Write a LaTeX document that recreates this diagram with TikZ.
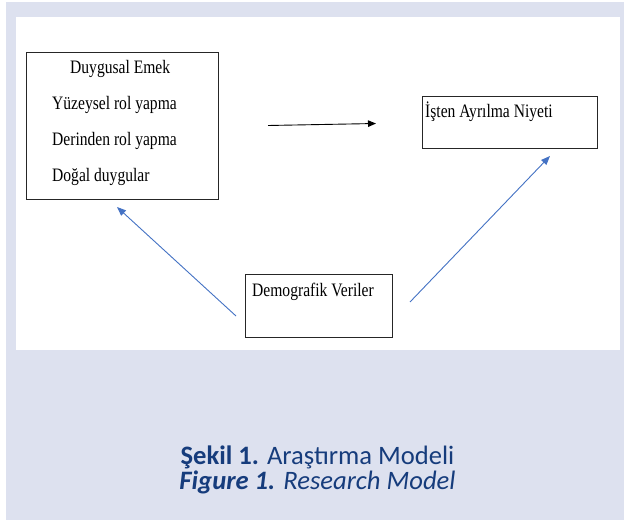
\documentclass[tikz,border=0pt]{standalone}
\usepackage{fontspec}
\setmainfont{Liberation Serif}[FakeStretch=0.82]
\newfontfamily\capfont{Carlito}
\usetikzlibrary{arrows.meta}

\definecolor{panelgray}{RGB}{221,225,239}
\definecolor{linkblue}{RGB}{68,114,196}
\definecolor{capblue}{RGB}{22,60,124}

\tikzset{
  boxframe/.style={draw=black!85, line width=0.8bp, inner sep=0pt, anchor=north west},
  boxtext/.style={anchor=base west, inner sep=0pt, font=\fontsize{19bp}{22bp}\selectfont},
  bluelink/.style={draw=linkblue, line width=0.9bp, -{Triangle[length=9bp,width=7bp]}},
  blacklink/.style={draw=black, line width=0.9bp, -{Triangle[length=8bp,width=6.5bp]}},
  captext/.style={anchor=base, inner sep=0pt, text=capblue, font=\capfont\fontsize{26.6bp}{27bp}\selectfont}
}

\begin{document}
\begin{tikzpicture}[x=1bp, y=-1bp]
  \useasboundingbox (0,0) rectangle (624,520);
  % panel and white drawing area
  \fill[panelgray] (6,2) rectangle (624,520);
  \fill[white] (16,17) rectangle (620,350);

  % boxes
  \node[boxframe, minimum width=192bp, minimum height=147bp] (emek) at (26,52) {};
  \node[boxframe, minimum width=175bp, minimum height=52bp] (niyet) at (422,96) {};
  \node[boxframe, minimum width=147bp, minimum height=63bp] (demo) at (245,274) {};

  % box texts
  \node[boxtext] (t1) at (70,74) {Duygusal Emek};
  \node[boxtext] (t2) at (52,110) {Yüzeysel rol yapma};
  \node[boxtext] (t3) at (52,146) {Derinden rol yapma};
  \node[boxtext] (t4) at (52,182) {Doğal duygular};
  \node[boxtext] (t5) at (425,118) {İşten Ayrılma Niyeti};
  \node[boxtext] (t6) at (252,296) {Demografik Veriler};

  % connector end points
  \coordinate (a1) at (268,125.5);
  \coordinate (a2) at (376,123.5);
  \coordinate (b1) at (236,316);
  \coordinate (b2) at (117,207);
  \coordinate (c1) at (410,302);
  \coordinate (c2) at (550,156);

  \draw[blacklink] (a1) -- (a2);
  \draw[bluelink] (b1) -- (b2);
  \draw[bluelink] (c1) -- (c2);

  % caption
  \node[captext] (cap1) at (317.5,464) {\textbf{Şekil 1.} Araştırma Modeli};
  \node[captext] (cap2) at (317.5,489.5) {\textbf{\textit{Figure 1.}} \textit{Research Model}};
\end{tikzpicture}
\end{document}
